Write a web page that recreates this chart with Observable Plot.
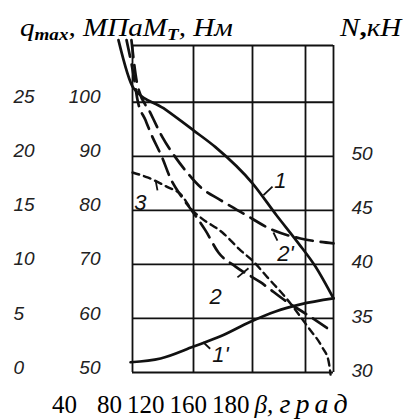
<!DOCTYPE html>
<html><head><meta charset="utf-8">
<script src="https://cdn.jsdelivr.net/npm/d3@7"></script>
<script src="https://cdn.jsdelivr.net/npm/@observablehq/plot@0.6"></script>
<style>
body{margin:0;background:#fff;}
#wrap{position:relative;width:403px;height:419px;overflow:hidden;background:#fff;}
#chart{position:absolute;left:0;top:0;}
.t{position:absolute;font-family:"Liberation Serif","Times New Roman",serif;color:#000;white-space:pre;line-height:26px;font-size:26px;}
.t sub{font-size:17px;line-height:0;vertical-align:-4px;font-weight:bold;}
.stretch{transform:scaleX(1.12);transform-origin:0 0;}
#xlab{font-size:25px;}
#xlab span{display:inline-block;margin-right:5px;}
#xlab span.first{margin-right:20px;}
#xlab i.g{font-size:28px;letter-spacing:5px;}
</style></head><body>
<div id="wrap">
<div id="chart"></div>
<div class="t stretch" id="titleL" style="left:20px;top:15px;font-style:italic;"></div>
<div class="t stretch" id="titleR" style="left:340px;top:15px;font-style:italic;"></div>
<div class="t" id="xlab" style="left:52px;top:391px;"></div>
</div>
<script>
// axis ticks
const xTicks = [40, 80, 120, 160, 180];
const mTicks = [50, 60, 70, 80, 90, 100];
const qTicks = [0, 5, 10, 15, 20, 25];
const nTicks = [30, 35, 40, 45, 50];
const frameTop = 110.5;

// curves (β, value on the M_T grid)
const beta1 = [30.8, 40.7, 60.3, 80, 94.9, 120, 138.1, 154.7, 167.1, 180];
const val1  = [111.5, 102.6, 98.9, 94.8, 91.7, 85.0, 79.1, 73.9, 69.6, 63.7];
const beta1p = [38.7, 58.4, 80, 98.3, 118.6, 137.4, 156.2, 180];
const val1p  = [51.9, 52.6, 54.8, 56.7, 59.4, 61.3, 62.6, 63.7];
const beta2 = [36.1, 40.7, 43.3, 48.5, 51.8, 59.7, 64.9, 71.5, 79.3, 88.1, 96.9, 108.5, 126, 146.4, 160, 180];
const val2  = [111.5, 105, 100.4, 96.7, 94.4, 89.6, 85.9, 82.8, 79.8, 76.3, 72.2, 69.6, 66.7, 63.0, 60.9, 57.4];
const beta2p = [39.3, 43.3, 51.8, 59.7, 68.2, 76.1, 84.7, 98.3, 113.9, 135.8, 156.2, 180];
const val2p  = [111.5, 103.1, 98.0, 93.5, 89.8, 86.9, 84.3, 81.9, 79.4, 76.3, 74.8, 73.9];
const beta3 = [40, 49.8, 63, 71.5, 79.3, 84.7, 99.6, 111.9, 120, 131.3, 144.9, 162.1, 172.1, 176.4, 177.9];
const val3  = [87, 86.1, 84.3, 83, 80, 78.7, 75.9, 72.6, 70.7, 67.6, 63.9, 58.3, 54.6, 52.2, 49.6];

// curve labels and their leader strokes
const labelText = ["1", "1'", "2", "2'", "3"];
const labelBeta = [141.1, 98.3, 95, 144.9, 45.2];
const labelVal  = [85.4, 53.3, 63.9, 71.9, 81.3];
const leadBeta1 = [128.3, 86.6, 109.8, 135.8, 55.1];
const leadVal1  = [82.8, 55.6, 67.6, 75.9, 85.6];
const leadBeta2 = [135.1, 91.3, 117.3, 138.8, 56.4];
const leadVal2  = [84.4, 54.4, 69.3, 74.4, 83.7];

const mk = (b, v) => b.map((x, i) => ({beta: x, val: v[i]}));
const c1 = mk(beta1, val1), c1p = mk(beta1p, val1p), c2 = mk(beta2, val2), c2p = mk(beta2p, val2p), c3 = mk(beta3, val3);
const labels = labelText.map((t, i) => ({t, beta: labelBeta[i], val: labelVal[i]}));
const leads = labelText.map((t, i) => ({b1: leadBeta1[i], v1: leadVal1[i], b2: leadBeta2[i], v2: leadVal2[i]}));

// the printed grid is not evenly spaced: warp β onto the drawn grid
const warp = d3.scaleLinear().domain(xTicks).range([0, 61, 120, 173, 201]);

const ink = "#111";
const sans = "Liberation Sans, Arial, sans-serif";
const lineOpts = {x: "beta", y: "val", stroke: ink, strokeWidth: 2.7, curve: "monotone-x"};

const chart = Plot.plot({
  width: 403, height: 390,
  marginLeft: 132, marginRight: 70, marginTop: 45, marginBottom: 18,
  style: {fontFamily: sans, background: "transparent", color: ink},
  x: {transform: warp, domain: [0, 201], axis: null},
  y: {domain: [50, frameTop], axis: null},
  marks: [
    Plot.ruleY([...mTicks, frameTop], {stroke: ink, strokeWidth: 1.8}),
    Plot.ruleX(xTicks, {stroke: ink, strokeWidth: 1.8}),
    Plot.line(c1, lineOpts),
    Plot.line(c1p, lineOpts),
    Plot.line(c2, {...lineOpts, strokeDasharray: "17,8"}),
    Plot.line(c2p, {...lineOpts, strokeDasharray: "17,8"}),
    Plot.line(c3, {...lineOpts, strokeWidth: 2.4, strokeDasharray: "7,5"}),
    Plot.link(leads, {x1: "b1", y1: "v1", x2: "b2", y2: "v2", stroke: ink, strokeWidth: 1.8}),
    Plot.text(labels, {x: "beta", y: "val", text: "t", fontSize: 22, fontStyle: "italic", fill: ink, fontFamily: sans}),
    Plot.axisY(mTicks, {anchor: "left", tickSize: 0, tickPadding: 32, dy: -5, fontSize: 19, fontStyle: "italic", label: null, fill: "#222"}),
    Plot.text(qTicks, {y: q => 50 + 2 * q, text: q => String(q), frameAnchor: "left", textAnchor: "start", dx: -119, dy: -5, fontSize: 19, fontStyle: "italic", fill: "#222"}),
    Plot.axisY(nTicks.map(n => 50 + 2 * (n - 30)), {anchor: "right", tickSize: 0, tickPadding: 18, dy: -2, tickFormat: m => String(30 + (m - 50) / 2), fontSize: 19, fontStyle: "italic", label: null, fill: "#222"})
  ]
});
document.getElementById("chart").appendChild(chart);

document.getElementById("titleL").innerHTML = "q<sub>max</sub>, МПаМ<sub>Т</sub>, Нм";
document.getElementById("titleR").innerHTML = "N<b style='font-style:normal'>,</b>кН";
document.getElementById("xlab").innerHTML = xTicks.map((t, i) => `<span class="${i === 0 ? "first" : ""}">${t}</span>`).join("") + "<i>β, </i><i class='g'>град</i>";
</script>
</body></html>
